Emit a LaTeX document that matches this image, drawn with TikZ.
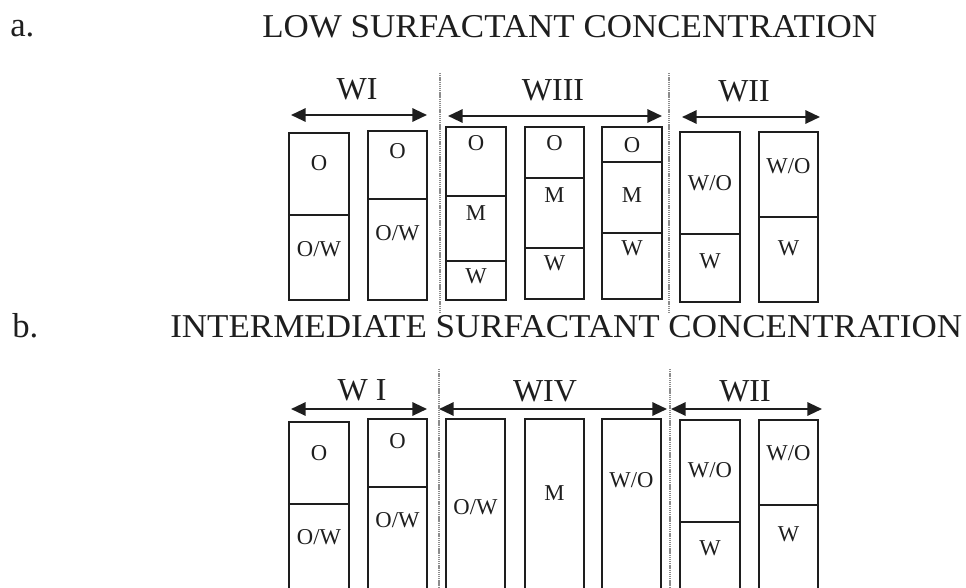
\documentclass[tikz,border=0pt]{standalone}
\usepackage{fontspec}
\setmainfont{Liberation Serif}
\newfontfamily\headfont[FakeStretch=1.05]{Liberation Serif}
\usetikzlibrary{arrows.meta}
\definecolor{phInk}{HTML}{1E1E1E}
\definecolor{phRule}{HTML}{8C8C8C}
\tikzset{
  tube/.style={draw=phInk, line width=1.1pt},
  cut/.style={draw=phInk, line width=1pt},
  phase/.style={font=\fontsize{17}{17}\selectfont, text=phInk, inner sep=0pt, anchor=base},
  region/.style={font=\fontsize{24}{24}\selectfont, text=phInk, inner sep=0pt, anchor=base},
  heading/.style={font=\headfont\fontsize{25}{25}\selectfont, text=phInk, inner sep=0pt, anchor=base west},
  panel/.style={font=\fontsize{26}{26}\selectfont, text=phInk, inner sep=0pt, anchor=base west},
  span/.style={{Triangle[length=11pt,width=10pt]}-{Triangle[length=11pt,width=10pt]}, line width=1.6pt, draw=phInk},
  border/.style={draw=phRule, line width=1pt, dash pattern=on 1pt off 0.6pt},
}

\begin{document}
\begin{tikzpicture}[x=0.75pt, y=-0.75pt]
  \clip (0,0) rectangle (966,588);

  % a. low surfactant concentration
  \node[panel]   (lblA)   at (10,37)  {a.};
  \node[heading] (headA)  at (262,38) {LOW SURFACTANT CONCENTRATION};

  \node[region] (wIa)   at (357,100) {WI};
  \node[region] (wIIIa) at (553,101) {WIII};
  \node[region] (wIIa)  at (744,102) {WII};

  \coordinate (wIaL) at (291,115);   \coordinate (wIaR) at (427,115);
  \coordinate (wIIIaL) at (448,116); \coordinate (wIIIaR) at (662,116);
  \coordinate (wIIaL) at (682,117);  \coordinate (wIIaR) at (820,117);
  \draw[span] (wIaL) -- (wIaR);
  \draw[span] (wIIIaL) -- (wIIIaR);
  \draw[span] (wIIaL) -- (wIIaR);

  \coordinate (sepA1t) at (440,73); \coordinate (sepA1b) at (440,312);
  \coordinate (sepA2t) at (669,73); \coordinate (sepA2b) at (669,312);
  \draw[border] (sepA1t) -- (sepA1b);
  \draw[border] (sepA2t) -- (sepA2b);

  \draw[tube] (289,133) rectangle (349,300);
  \draw[cut]  (289,215) -- (349,215);
  \draw[tube] (368,131) rectangle (427,300);
  \draw[cut]  (368,199) -- (427,199);
  \draw[tube] (446,127) rectangle (506,300);
  \draw[cut]  (446,196) -- (506,196);
  \draw[cut]  (446,261) -- (506,261);
  \draw[tube] (525,127) rectangle (584,299);
  \draw[cut]  (525,178) -- (584,178);
  \draw[cut]  (525,248) -- (584,248);
  \draw[tube] (602,127) rectangle (662,299);
  \draw[cut]  (602,162) -- (662,162);
  \draw[cut]  (602,233) -- (662,233);
  \draw[tube] (680,132) rectangle (740,302);
  \draw[cut]  (680,234) -- (740,234);
  \draw[tube] (759,132) rectangle (818,302);
  \draw[cut]  (759,217) -- (818,217);

  \node[phase] (a1o)  at (319,171)   {O};
  \node[phase] (a1ow) at (319,256)   {O/W};
  \node[phase] (a2o)  at (397.5,158) {O};
  \node[phase] (a2ow) at (397.5,240) {O/W};
  \node[phase] (a3o)  at (476,151)   {O};
  \node[phase] (a3m)  at (476,220)   {M};
  \node[phase] (a3w)  at (476,283)   {W};
  \node[phase] (a4o)  at (554.5,151) {O};
  \node[phase] (a4m)  at (554.5,202) {M};
  \node[phase] (a4w)  at (554.5,270) {W};
  \node[phase] (a5o)  at (632,152)   {O};
  \node[phase] (a5m)  at (632,202)   {M};
  \node[phase] (a5w)  at (632,255)   {W};
  \node[phase] (a6wo) at (710,190)   {W/O};
  \node[phase] (a6w)  at (710,268)   {W};
  \node[phase] (a7wo) at (788.5,173) {W/O};
  \node[phase] (a7w)  at (788.5,255) {W};

  % b. intermediate surfactant concentration
  \node[panel]   (lblB)  at (12,337)  {b.};
  \node[heading] (headB) at (170,337) {INTERMEDIATE SURFACTANT CONCENTRATION};

  \node[region] (wIb)  at (362,400) {W I};
  \node[region] (wIVb) at (545,401) {WIV};
  \node[region] (wIIb) at (745,401) {WII};

  \coordinate (wIbL) at (291,409);  \coordinate (wIbR) at (427,409);
  \coordinate (wIVbL) at (439,409); \coordinate (wIVbR) at (667,409);
  \coordinate (wIIbL) at (671,409); \coordinate (wIIbR) at (822,409);
  \draw[span] (wIbL) -- (wIbR);
  \draw[span] (wIVbL) -- (wIVbR);
  \draw[span] (wIIbL) -- (wIIbR);

  \coordinate (sepB1t) at (439,369); \coordinate (sepB1b) at (439,590);
  \coordinate (sepB2t) at (670,369); \coordinate (sepB2b) at (670,590);
  \draw[border] (sepB1t) -- (sepB1b);
  \draw[border] (sepB2t) -- (sepB2b);

  \draw[tube] (289,422) rectangle (349,600);
  \draw[cut]  (289,504) -- (349,504);
  \draw[tube] (368,419) rectangle (427,600);
  \draw[cut]  (368,487) -- (427,487);
  \draw[tube] (446,419) rectangle (505,600);
  \draw[tube] (525,419) rectangle (584,600);
  \draw[tube] (602,419) rectangle (661,600);
  \draw[tube] (680,420) rectangle (740,600);
  \draw[cut]  (680,522) -- (740,522);
  \draw[tube] (759,420) rectangle (818,600);
  \draw[cut]  (759,505) -- (818,505);

  \node[phase] (b1o)  at (319,460)   {O};
  \node[phase] (b1ow) at (319,544)   {O/W};
  \node[phase] (b2o)  at (397.5,448) {O};
  \node[phase] (b2ow) at (397.5,527) {O/W};
  \node[phase] (b3ow) at (475.5,514) {O/W};
  \node[phase] (b4m)  at (554.5,500) {M};
  \node[phase] (b5wo) at (631.5,487) {W/O};
  \node[phase] (b6wo) at (710,477)   {W/O};
  \node[phase] (b6w)  at (710,555)   {W};
  \node[phase] (b7wo) at (788.5,460) {W/O};
  \node[phase] (b7w)  at (788.5,541) {W};
\end{tikzpicture}
\end{document}
